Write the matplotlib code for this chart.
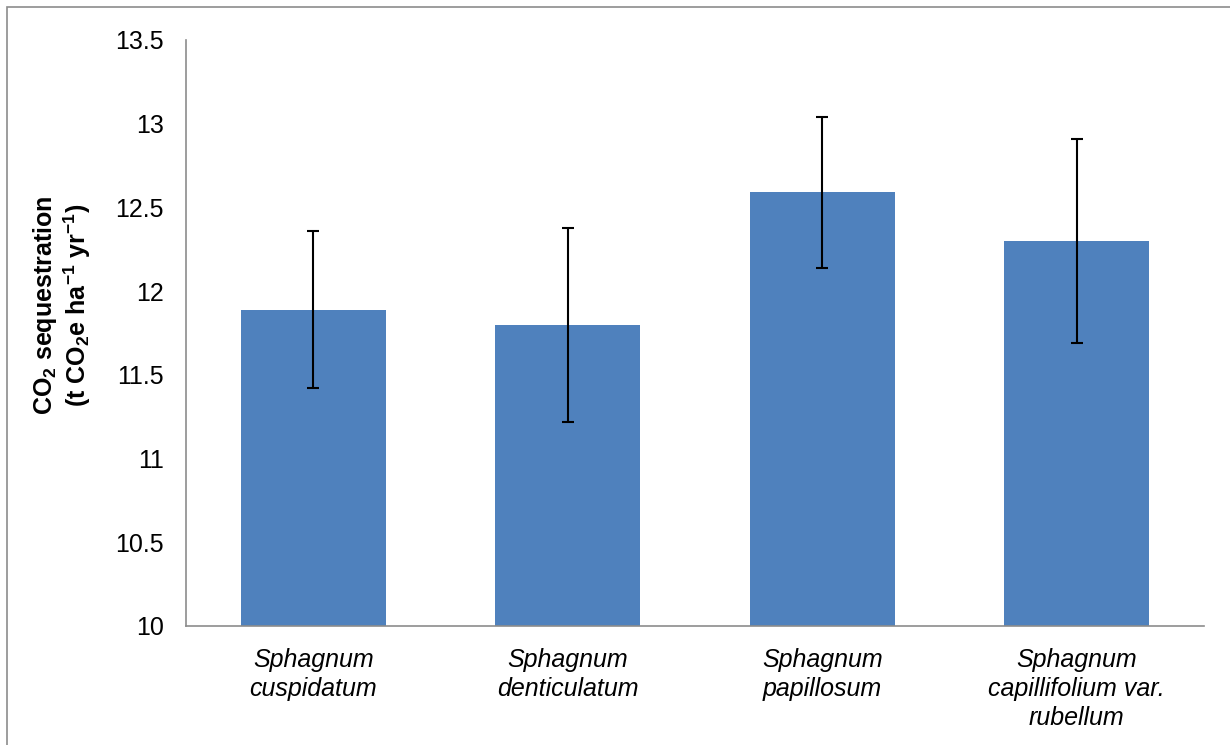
import matplotlib
matplotlib.use("Agg")
import matplotlib.pyplot as plt
from matplotlib.patches import Rectangle

plt.rcParams['font.family'] = ['Liberation Sans', 'DejaVu Sans']
plt.rcParams['mathtext.fontset'] = 'custom'
plt.rcParams['mathtext.rm'] = 'Liberation Sans:bold'
plt.rcParams['mathtext.bf'] = 'Liberation Sans:bold'
plt.rcParams['mathtext.it'] = 'Liberation Sans:bold'

# data
species = ['Sphagnum\ncuspidatum', 'Sphagnum\ndenticulatum',
           'Sphagnum\npapillosum', 'Sphagnum\ncapillifolium var.\nrubellum']
co2_seq = [11.89, 11.80, 12.59, 12.30]
co2_err = [0.47, 0.58, 0.45, 0.61]
yticks = [10, 10.5, 11, 11.5, 12, 12.5, 13, 13.5]

fig = plt.figure(figsize=(12.3, 7.45), dpi=100)
ax = fig.add_axes([186 / 1230, 1 - 626 / 745, 1018 / 1230, 586 / 745])

x = range(len(species))
ax.bar(x, co2_seq, width=0.57, color='#4F81BD', zorder=2)
ax.errorbar(x, co2_seq, yerr=co2_err, fmt='none', ecolor='black',
            elinewidth=1.5, capsize=4.6, capthick=1.5, zorder=3)

ax.set_xlim(-0.5, 3.5)
ax.set_ylim(10, 13.5)
ax.set_yticks(yticks)
ax.set_yticklabels([f'{v:g}' for v in yticks], fontsize=18)
ax.set_xticks(list(x))
ax.set_xticklabels(species, fontsize=18, fontstyle='italic', linespacing=1.25)

# Remove top/right spines, grey left/bottom
for s in ['top', 'right']:
    ax.spines[s].set_visible(False)
for s in ['left', 'bottom']:
    ax.spines[s].set_color('#8c8c8c')
    ax.spines[s].set_linewidth(1.2)
ax.tick_params(axis='y', length=0, pad=16)
ax.tick_params(axis='x', length=0, pad=16)

fig.text(62 / 1230, 1 - 305 / 745,
         'CO$_{2}$ sequestration\n(t CO$_{2}$e ha$^{-1}$ yr$^{-1}$)',
         rotation=90, ha='center', va='center', fontsize=18,
         fontweight='bold', linespacing=1.1)

# outer chart frame
fig.patches.append(Rectangle((7 / 1230, -0.1), 1.2, 1 - 7 / 745 + 0.1,
                             transform=fig.transFigure, fill=False,
                             edgecolor='#8c8c8c', linewidth=1.2))

fig.savefig('out.png', dpi=100)
